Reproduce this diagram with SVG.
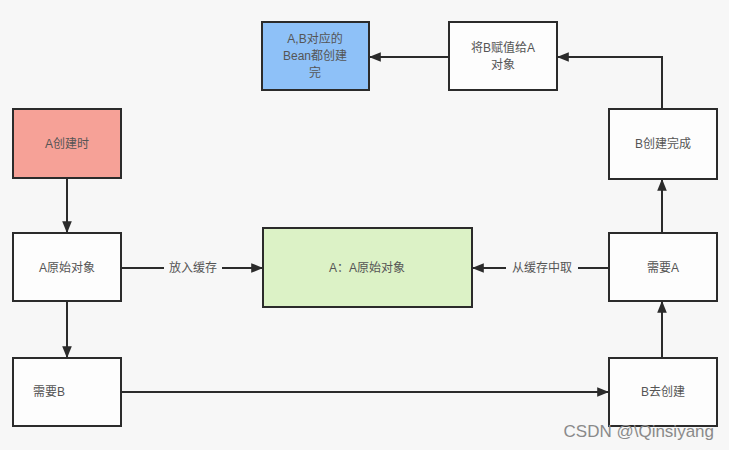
<svg xmlns="http://www.w3.org/2000/svg" width="729" height="450" viewBox="0 0 729 450">
<defs>
<style>
.box{stroke:#2b2b2b;stroke-width:2;fill:#fdfdfd}
.t{font-family:"Liberation Sans","Noto Sans CJK SC",sans-serif;font-size:12px;fill:#555;text-anchor:middle;dominant-baseline:central}
.c{stroke:#2b2b2b;stroke-width:2;fill:none}
.lbl{font-family:"Liberation Sans","Noto Sans CJK SC",sans-serif;font-size:12px;fill:#555;text-anchor:middle;dominant-baseline:central}
</style>
<marker id="ah" viewBox="0 0 10 10" refX="9" refY="5" markerWidth="6" markerHeight="6" orient="auto" markerUnits="strokeWidth">
<path d="M0,1 L10,5 L0,9 Z" fill="#2b2b2b"/>
</marker>
</defs>
<rect width="729" height="450" fill="#f7f7f7"/>
<g id="connectors">
<path class="c" d="M67,178 V232" marker-end="url(#ah)"/>
<path class="c" d="M67,301 V357" marker-end="url(#ah)"/>
<path class="c" d="M121,268 H262" marker-end="url(#ah)"/>
<rect x="164" y="260" width="58" height="16" fill="#f7f7f7"/>
<text class="lbl" x="193" y="268">放入缓存</text>
<path class="c" d="M609,268 H473" marker-end="url(#ah)"/>
<rect x="506" y="260" width="72" height="16" fill="#f7f7f7"/>
<text class="lbl" x="542" y="268">从缓存中取</text>
<path class="c" d="M121,392 H608" marker-end="url(#ah)"/>
<path class="c" d="M662,358 V302" marker-end="url(#ah)"/>
<path class="c" d="M662,233 V180" marker-end="url(#ah)"/>
<path class="c" d="M662,109 V57 H558" marker-end="url(#ah)"/>
<path class="c" d="M449,57 H370" marker-end="url(#ah)"/>
</g>
<g id="n-a-create">
<rect class="box" x="13" y="109" width="108" height="69" style="fill:#f6a197"/>
<text class="t" x="67" y="144">A创建时</text>
</g>
<g id="n-a-raw">
<rect class="box" x="13" y="233" width="108" height="68"/>
<text class="t" x="67" y="268">A原始对象</text>
</g>
<g id="n-need-b">
<rect class="box" x="13" y="358" width="108" height="68"/>
<text class="t" x="49" y="392">需要B</text>
</g>
<g id="n-cache">
<rect class="box" x="263" y="228" width="209" height="79" style="fill:#dcf2c6"/>
<text class="t" x="367" y="268">A：A原始对象</text>
</g>
<g id="n-b-create">
<rect class="box" x="609" y="358" width="108" height="68"/>
<text class="t" x="663" y="392">B去创建</text>
</g>
<g id="n-need-a">
<rect class="box" x="609" y="233" width="108" height="68"/>
<text class="t" x="663" y="268">需要A</text>
</g>
<g id="n-b-done">
<rect class="box" x="609" y="109" width="108" height="70"/>
<text class="t" x="663" y="144">B创建完成</text>
</g>
<g id="n-assign">
<rect class="box" x="449" y="22" width="108" height="68"/>
<text class="t" x="503" y="48">将B赋值给A</text>
<text class="t" x="503" y="65">对象</text>
</g>
<g id="n-done">
<rect class="box" x="262" y="22" width="107" height="68" style="fill:#8ec1f8"/>
<text class="t" x="315" y="39">A,B对应的</text>
<text class="t" x="315" y="56">Bean都创建</text>
<text class="t" x="315" y="73">完</text>
</g>
<text x="714" y="437" style="font-family:'Liberation Sans',sans-serif;font-size:17px;fill:#8a8a8a;text-anchor:end">CSDN @\Qinsiyang</text>
</svg>
